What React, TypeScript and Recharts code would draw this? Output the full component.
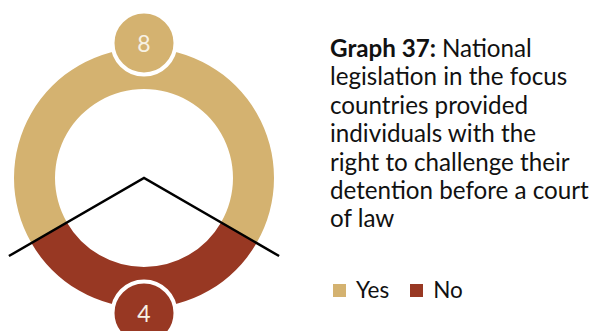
import React from 'react';
import { PieChart, Pie, Cell } from 'recharts';

const categories = ['Yes', 'No'];
const counts = [8, 4];
const colors = ['#D4B270', '#983823'];
const titleLead = 'Graph 37:';
const titleLines = [
    'National',
    'legislation in the focus',
    'countries provided',
    'individuals with the',
    'right to challenge their',
    'detention before a court',
    'of law',
];

const chartData = categories.map((name, i) => ({ name, value: counts[i] }));

const RAD = Math.PI / 180;
const FONT = 'Lato, "Open Sans", sans-serif';

function polar(cx: number, cy: number, r: number, angle: number) {
    return { x: cx + r * Math.cos(-angle * RAD), y: cy + r * Math.sin(-angle * RAD) };
}

function CountLabel(props: any) {
    const { cx, cy, midAngle, startAngle, endAngle, value, index } = props;
    const p = polar(cx, cy, 135, midAngle);
    const fill = colors[index];
    let lines = null;
    if (index === 1) {
        // black wedge along the edges of the "No" share
        const a = polar(cx, cy, 156, startAngle);
        const b = polar(cx, cy, 156, endAngle);
        lines = (
            <polyline
                points={`${a.x},${a.y} ${cx},${cy} ${b.x},${b.y}`}
                fill="none"
                stroke="#000"
                strokeWidth={2.5}
            />
        );
    }
    return (
        <g>
            {lines}
            <circle cx={p.x} cy={p.y} r={31.5} fill={fill} stroke="#fff" strokeWidth={4} />
            <text
                x={p.x}
                y={p.y}
                textAnchor="middle"
                dominantBaseline="central"
                fill="#F7F1E4"
                fontSize={23}
                fontFamily={FONT}
            >
                {value}
            </text>
        </g>
    );
}

function LegendRow() {
    return (
        <div style={{ position: 'absolute', left: 333, top: 277, display: 'flex', alignItems: 'center', fontFamily: FONT, fontSize: 22.5, color: '#111' }}>
            {categories.map((c, i) => (
                <div key={c} style={{ display: 'flex', alignItems: 'center', marginRight: 21 }}>
                    <span style={{ display: 'inline-block', width: 13, height: 13, background: colors[i], marginRight: 10 }} />
                    <span style={{ lineHeight: '26px' }}>{c}</span>
                </div>
            ))}
        </div>
    );
}

export default function App() {
    return (
        <div style={{ position: 'absolute', left: 0, top: 0, width: 590, height: 331, background: '#fff', fontFamily: FONT }}>
            <PieChart width={590} height={331} margin={{ top: 0, right: 0, bottom: 0, left: 0 }}>
                <Pie
                    data={chartData}
                    dataKey="value"
                    nameKey="name"
                    cx={144}
                    cy={178}
                    innerRadius={89}
                    outerRadius={130}
                    startAngle={-30}
                    endAngle={330}
                    stroke="none"
                    label={CountLabel}
                    labelLine={false}
                    isAnimationActive={false}
                >
                    {chartData.map((d, i) => (
                        <Cell key={d.name} fill={colors[i]} />
                    ))}
                </Pie>
            </PieChart>
            <LegendRow />
            <div
                style={{
                    position: 'absolute',
                    left: 330,
                    top: 34,
                    width: 262,
                    fontSize: 24.2,
                    lineHeight: '28.4px',
                    color: '#111',
                    fontFamily: FONT,
                    whiteSpace: 'nowrap',
                }}
            >
                {titleLines.map((line, i) => (
                    <div key={i}>
                        {i === 0 && <b>{titleLead} </b>}
                        {line}
                    </div>
                ))}
            </div>
        </div>
    );
}
